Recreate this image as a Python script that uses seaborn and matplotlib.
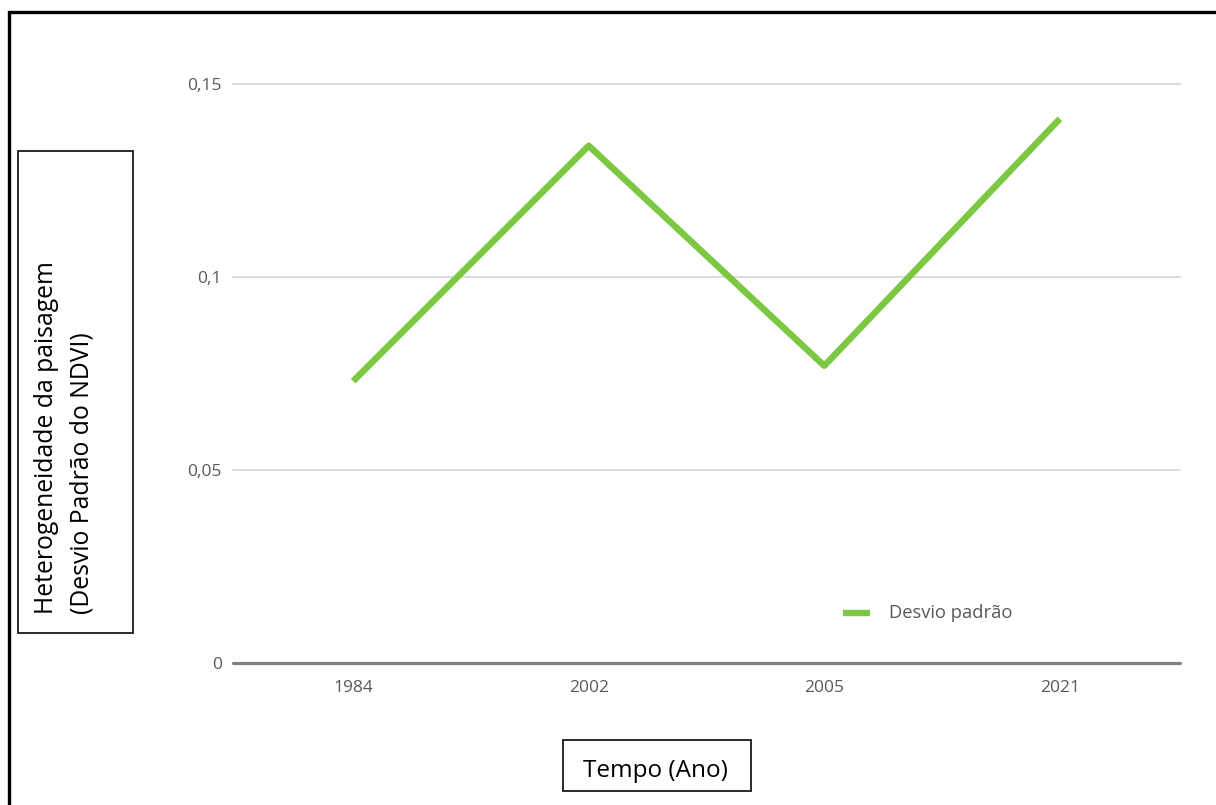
import matplotlib
matplotlib.use("Agg")
import matplotlib.pyplot as plt
from matplotlib.patches import Rectangle
import seaborn as sns
import pandas as pd

# Data
anos = ["1984", "2002", "2005", "2021"]
desvio_padrao = [0.073, 0.134, 0.077, 0.141]
y_ticks = [0, 0.05, 0.1, 0.15]
y_tick_labels = ["0", "0,05", "0,1", "0,15"]
serie_nome = "Desvio padrão"
x_titulo = "Tempo (Ano)"
y_titulo = "Heterogeneidade da paisagem\n(Desvio Padrão do NDVI)"

VERDE = "#7dc843"
CINZA_TXT = "#595959"
FONT = ["Open Sans", "DejaVu Sans"]

sns.set_theme(style="white")
plt.rcParams["font.family"] = FONT

W, H = 1216, 805
fig = plt.figure(figsize=(W / 100, H / 100), dpi=100)


def fx(px):
    return px / W


def fy(py):
    return 1 - py / H


ax = fig.add_axes([fx(233), fy(663), fx(1180) - fx(233), fy(84) - fy(663)])

df = pd.DataFrame({"Ano": anos, "Valor": desvio_padrao, "Série": serie_nome})
sns.lineplot(data=df, x="Ano", y="Valor", ax=ax, color=VERDE, linewidth=4.7,
             sort=False, legend=False, solid_capstyle="butt", clip_on=False)

ax.set_xlim(-0.51, 3.51)
ax.set_ylim(0, 0.15)
ax.set_yticks(y_ticks)
ax.set_yticklabels(y_tick_labels)
ax.set_xlabel("")
ax.set_ylabel("")
for s in ax.spines.values():
    s.set_visible(False)
ax.grid(False)
for v in y_ticks[1:]:
    ax.axhline(v, color="#d9d9d9", linewidth=1.3, zorder=0, clip_on=False)
ax.axhline(0, color="#7f7f7f", linewidth=2.3, zorder=1, clip_on=False)
ax.tick_params(axis="both", length=0, labelsize=12.5, labelcolor=CINZA_TXT)
ax.tick_params(axis="y", pad=8)
ax.tick_params(axis="x", pad=12)

# Legend entry
leg_y = fy(613)
fig.add_artist(plt.Line2D([fx(843), fx(870)], [leg_y, leg_y], color=VERDE,
                          linewidth=4.6, solid_capstyle="butt",
                          transform=fig.transFigure))
fig.text(fx(889), leg_y, serie_nome, ha="left", va="center",
         fontsize=13.2, color=CINZA_TXT)

# Axis title boxes
fig.add_artist(Rectangle((fx(18), fy(633)), fx(133) - fx(18), fy(151) - fy(633),
                         transform=fig.transFigure, fill=False,
                         edgecolor="#1a1a1a", linewidth=1.3))
fig.text(fx(64), fy(614), y_titulo, rotation=90, ha="center", va="bottom",
         multialignment="left", fontsize=17.8, color="black", linespacing=1.55)

fig.add_artist(Rectangle((fx(563), fy(791)), fx(751) - fx(563), fy(740) - fy(791),
                         transform=fig.transFigure, fill=False,
                         edgecolor="#1a1a1a", linewidth=1.3))
fig.text(fx(655), fy(771), x_titulo, ha="center", va="center",
         fontsize=17.5, color="black")

# Outer frame
fig.add_artist(Rectangle((fx(9), fy(830)), fx(1240) - fx(9), fy(12) - fy(830),
                         transform=fig.transFigure, fill=False,
                         edgecolor="black", linewidth=2.4))

fig.savefig("out.png", dpi=100)
